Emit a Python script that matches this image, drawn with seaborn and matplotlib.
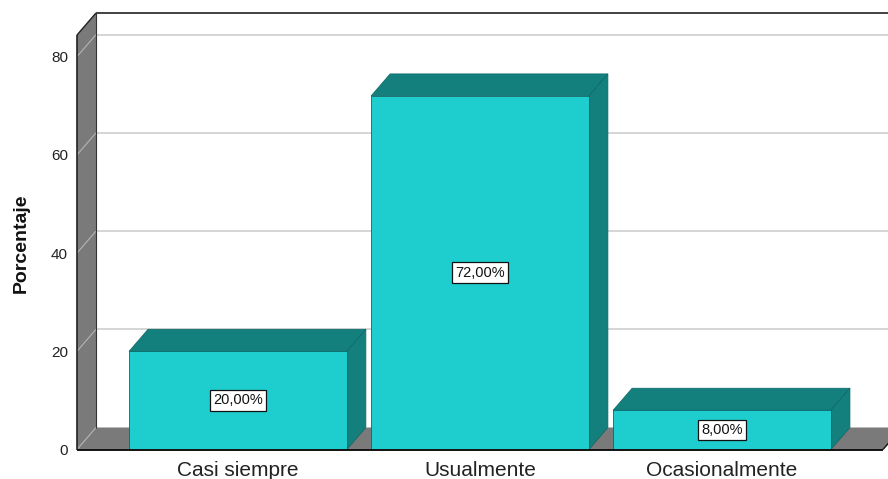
import matplotlib
matplotlib.use("Agg")
import matplotlib.pyplot as plt
import seaborn as sns
import pandas as pd
from matplotlib.patches import Polygon
from matplotlib.lines import Line2D

# Data
categories = ["Casi siempre", "Usualmente", "Ocasionalmente"]
percentages = [20.0, 72.0, 8.0]
value_labels = ["20,00%", "72,00%", "8,00%"]
y_ticks = [0, 20, 40, 60, 80]

# Colours
FRONT = "#1ECECE"
SHADE = "#13807E"
EDGE = "#0D6666"
WALL = "#7A7A7A"
GRID = "#D2D2D2"
WALL_GRID = "#B4B4B4"

sns.set_theme(style="white")
plt.rcParams["font.family"] = ["Liberation Sans", "DejaVu Sans"]

W, H = 888, 479
fig = plt.figure(figsize=(W / 100, H / 100), dpi=100)
# front plane of the pseudo-3D box
ax = fig.add_axes([77 / W, 29.5 / H, 806 / W, 414.5 / H])

df = pd.DataFrame({"categoria": categories, "porcentaje": percentages})
sns.barplot(data=df, x="categoria", y="porcentaje", color=FRONT, saturation=1,
            width=0.9, edgecolor=EDGE, linewidth=0.6, ax=ax, zorder=3)

x0, x1 = -0.665, 2.665
y0, y1 = 0.0, 84.4
ax.set_xlim(x0, x1)
ax.set_ylim(y0, y1)

# depth offset in data units (about 19 px right, 22 px up)
dx = 19 / (806 / (x1 - x0))
dy = 22 / (414.5 / (y1 - y0))

for s in ax.spines.values():
    s.set_visible(False)
ax.set_facecolor("none")
ax.grid(False)

def poly(pts, fc, ec="none", lw=0.0, z=1.0):
    ax.add_patch(Polygon(pts, closed=True, facecolor=fc, edgecolor=ec,
                         linewidth=lw, zorder=z, clip_on=False))

def line(xs, ys, color, lw, z):
    ax.add_line(Line2D(xs, ys, color=color, linewidth=lw, zorder=z,
                       clip_on=False, solid_capstyle="butt"))

# back wall gridlines
for v in y_ticks[1:]:
    line([x0 + dx, x1 + dx], [v + dy, v + dy], GRID, 1.3, 0.7)

# left wall and floor
poly([(x0, y0), (x0 + dx, y0 + dy), (x0 + dx, y1 + dy), (x0, y1)], WALL, z=0.8)
poly([(x0, y0), (x1, y0), (x1 + dx, y0 + dy), (x0 + dx, y0 + dy)], WALL, z=0.8)

# gridline continuations across the left wall
for v in y_ticks:
    line([x0, x0 + dx], [v, v + dy], WALL_GRID, 0.8, 0.9)

# box outline
line([x0 + dx, x1 + dx], [y1 + dy, y1 + dy], "#222222", 1.2, 1.0)
line([x0, x0 + dx], [y1, y1 + dy], "#222222", 1.0, 1.0)
line([x0, x0], [y0, y1], "#222222", 1.2, 1.0)
line([x0 + dx, x0 + dx], [y0 + dy, y1 + dy], "#333333", 0.8, 1.0)
line([x0, x1], [y0, y0], "#111111", 1.4, 4)
line([x1, x1 + dx], [y0, y0 + dy], "#111111", 1.0, 1.0)

# top and side faces of each bar
for bar in ax.patches[:len(categories)]:
    L = bar.get_x()
    R = L + bar.get_width()
    h = bar.get_height()
    poly([(L, h), (R, h), (R + dx, h + dy), (L + dx, h + dy)], SHADE, EDGE, 0.5, 2)
    poly([(R, 0), (R + dx, dy), (R + dx, h + dy), (R, h)], SHADE, EDGE, 0.5, 2)

# value boxes
for i, (v, lab) in enumerate(zip(percentages, value_labels)):
    ax.text(i, v / 2, lab, ha="center", va="center", fontsize=10.5, color="#111111",
            zorder=6,
            bbox=dict(boxstyle="square,pad=0.22", facecolor="white",
                      edgecolor="#111111", linewidth=0.9))

ax.set_yticks(y_ticks)
ax.set_yticklabels([str(t) for t in y_ticks])
ax.tick_params(axis="y", length=0, pad=6.5, labelsize=11, labelcolor="#222222")
ax.tick_params(axis="x", length=0, pad=8, labelsize=15, labelcolor="#222222")
ax.set_xlabel("")
ax.set_ylabel("")

fig.text(21 / W, 1 - 243 / H, "Porcentaje", rotation=90, ha="center", va="center",
         fontsize=14, fontweight="bold", color="#111111")

fig.savefig("out.png", dpi=100, facecolor="white")
